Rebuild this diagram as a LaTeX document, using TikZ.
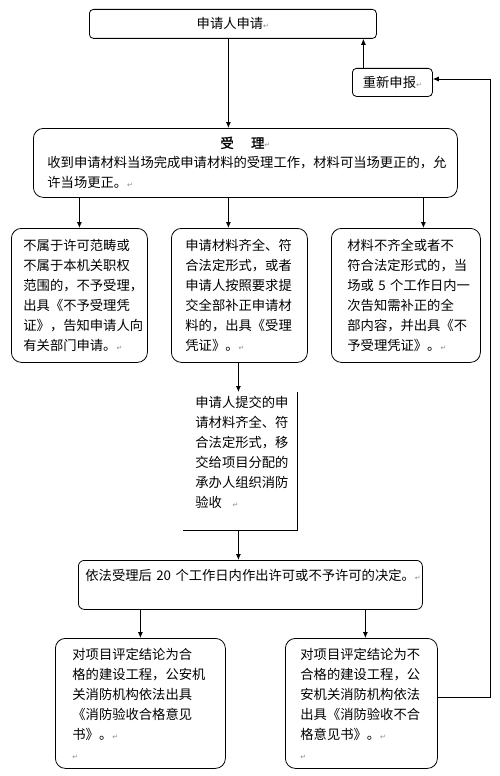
\documentclass[tikz,border=0pt]{standalone}
\usepackage{fontspec}
\setmainfont{Noto Sans CJK SC}
\newfontfamily\titlecjk[FakeBold=1.5]{Noto Sans CJK SC}
\newfontfamily\symfont{DejaVu Sans}
\usetikzlibrary{arrows.meta}
\newcommand\fs{\fontsize{13.3}{20}\selectfont}
\newcommand\ret{{\symfont\fontsize{7}{7}\selectfont\color{black!45}↵}}
\tikzset{
  box/.style={draw, line width=0.8pt, anchor=north west, inner ysep=0pt, font=\fs},
  rbox/.style={box, rounded corners=10pt},
  arr/.style={-{Latex[length=6pt,width=5pt]}, line width=0.8pt},
  ln/.style={line width=0.8pt},
}
\begin{document}
\begin{tikzpicture}[x=1pt,y=1pt]
\useasboundingbox (0,0) rectangle (500,-776);
% top
\node[box, rounded corners=4pt, minimum width=287pt, minimum height=29pt] (a) at (89,-9) {申请人申请\ret};
\node[box, rounded corners=4pt, minimum width=80pt, minimum height=28pt] (r) at (352,-68) {重新申报\ret};
% accept
\node[rbox, minimum width=424pt, minimum height=69pt, text width=396pt, inner xsep=14pt, align=left] (b) at (33,-128)
 {\makebox[\linewidth][c]{{\titlecjk 受\hspace{1.3em}理}\ret}\\
  收到申请材料当场完成申请材料的受理工作，材料可当场更正的，允\\
  许当场更正。\ret};
% three
\node[rbox, minimum width=136pt, minimum height=134pt, text width=112pt, inner xsep=12pt, align=left] (c1) at (11,-228)
 {不属于许可范畴或\\不属于本机关职权\\范围的，不予受理，\\出具《不予受理凭\\证》，告知申请人向\\有关部门申请。\ret};
\node[rbox, minimum width=136pt, minimum height=134pt, text width=108pt, inner xsep=14pt, align=left] (c2) at (171,-228)
 {申请材料齐全、符\\合法定形式，或者\\申请人按照要求提\\交全部补正申请材\\料的，出具《受理\\凭证》。\ret};
\node[rbox, minimum width=149pt, minimum height=134pt, text width=117pt, inner xsep=16pt, align=left] (c3) at (331,-228)
 {材料不齐全或者不\\符合法定形式的，当\\场或\mbox{ 5 }个工作日内一\\次告知需补正的全\\部内容，并出具《不\\予受理凭证》。\ret};
% center
\node[box, draw=none, minimum width=114pt, minimum height=138pt, text width=90pt, inner xsep=12pt, align=left] (d) at (183,-392)
 {申请人提交的申\\请材料齐全、符\\合法定形式，移\\交给项目分配的\\承办人组织消防\\验收\hspace{0.8em}\ret\\\mbox{}};
\draw[ln] (d.north east) -- (d.south east) -- (d.south west);
% decision
\node[box, rounded corners=6pt, minimum width=344pt, minimum height=49pt, text width=330pt, inner xsep=7pt, align=left] (e) at (78,-560)
 {\mbox{依法受理后 20 个工作日内作出许可或不予许可的决定。\ret}\\\mbox{}};
% bottom
\node[rbox, minimum width=170pt, minimum height=130pt, text width=136pt, inner xsep=17pt, align=left] (f1) at (55,-638)
 {对项目评定结论为合\\格的建设工程，公安机\\关消防机构依法出具\\《消防验收合格意见\\书》。\ret\\\ret};
\node[rbox, minimum width=152pt, minimum height=130pt, text width=122pt, inner xsep=15pt, align=left] (f2) at (285,-638)
 {对项目评定结论为不\\合格的建设工程，公\\安机关消防机构依法\\出具《消防验收不合\\格意见书》。\ret\\\ret};
% connectors
\draw[arr] ([xshift=-4.5pt]a.south) -- ([xshift=-4.5pt]a.south |- b.north);
\draw[arr] ([xshift=-29pt]r.north) -- ([xshift=-29pt]r.north |- a.south);
\draw[arr] (c1.north |- b.south) -- (c1.north);
\draw[arr] ([xshift=-11pt]c2.north |- b.south) -- ([xshift=-11pt]c2.north);
\draw[arr] ([xshift=17.5pt]c3.north |- b.south) -- ([xshift=17.5pt]c3.north);
\draw[arr] ([xshift=-2pt]d.north |- c2.south) -- ([xshift=-2pt]d.north);
\draw[arr] ([xshift=-2pt]d.south) -- ([xshift=-2pt]d.south |- e.north);
\draw[arr] (f1.north |- e.south) -- (f1.north);
\draw[arr] ([xshift=4pt]f2.north |- e.south) -- ([xshift=4pt]f2.north);
\coordinate (rt) at (490,-79);
\draw[arr] ([yshift=6pt]f2.east) -- ([yshift=6pt]f2.east -| rt) -- (rt) -- (rt -| r.east);
\end{tikzpicture}
\end{document}
